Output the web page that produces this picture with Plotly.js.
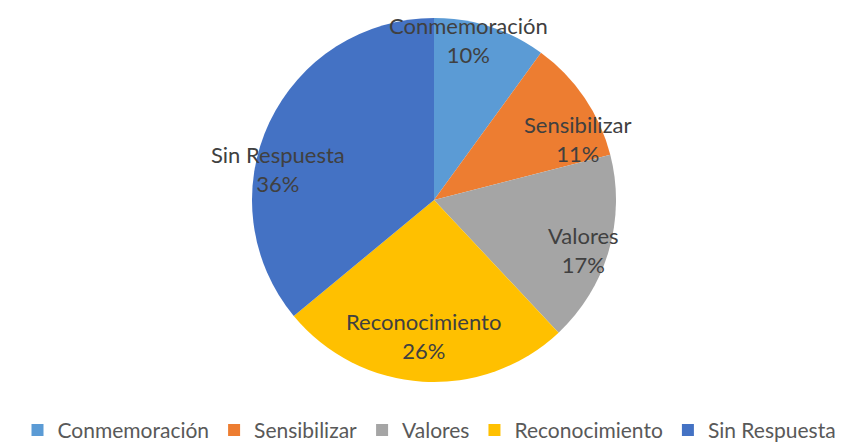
<!DOCTYPE html>
<html>
<head>
<meta charset="utf-8">
<script src="https://cdn.plot.ly/plotly-3.0.1.min.js"></script>
<style>html,body{margin:0;padding:0;background:#fff;}#chart{width:859px;height:442px;}</style>
</head>
<body>
<div id="chart"></div>
<script>
const categories = ["Conmemoración", "Sensibilizar", "Valores", "Reconocimiento", "Sin Respuesta"];
const values = [10, 11, 17, 26, 36];
const colors = ["#5B9BD5", "#ED7D31", "#A5A5A5", "#FFC000", "#4472C4"];

const W = 859, H = 442;
const cx = 434, cy = 200, R = 182;
const domX = [(cx - R) / W, (cx + R) / W];
const domY = [1 - (cy + R) / H, 1 - (cy - R) / H];
const FONT = "Lato, 'Open Sans', sans-serif";
// small pixel nudges of the data labels (Excel "best fit" placement)
const labelNudgeX = [-13, 18, 3, -1, -18];
const labelNudgeY = [-15, 25, 7, -17, 34];

const trace = {
  type: "pie",
  labels: categories,
  values: values,
  sort: false,
  direction: "clockwise",
  rotation: 0,
  marker: { colors: colors, line: { width: 0 } },
  textinfo: "none",
  hoverinfo: "none",
  domain: { x: domX, y: domY }
};

// data labels placed along each slice's mid-angle (derived from the values)
const total = values.reduce((a, b) => a + b, 0);
const annotations = [];
let cum = 0;
values.forEach((v, i) => {
  const mid = (cum + v / 2) / total * 2 * Math.PI;
  cum += v;
  const rf = 0.84 * R;
  const px = cx + rf * Math.sin(mid) + labelNudgeX[i];
  const py = cy - rf * Math.cos(mid) + labelNudgeY[i];
  annotations.push({
    xref: "paper", yref: "paper",
    x: px / W, y: 1 - py / H,
    xanchor: "center", yanchor: "middle",
    showarrow: false,
    text: categories[i] + "<br>" + Math.round(v / total * 100) + "%",
    font: { family: FONT, size: 22, color: "#404040" }
  });
});

const layout = {
  width: W, height: H,
  margin: { l: 0, r: 0, t: 0, b: 0, autoexpand: false },
  paper_bgcolor: "#ffffff",
  showlegend: true,
  annotations: annotations,
  legend: {
    orientation: "h", x: 0.5, xanchor: "center", y: -0.02, yanchor: "bottom",
    font: { family: FONT, size: 21, color: "#595959" },
    itemwidth: 30
  }
};

Plotly.newPlot("chart", [trace], layout, { displayModeBar: false, staticPlot: true });
</script>
</body>
</html>
